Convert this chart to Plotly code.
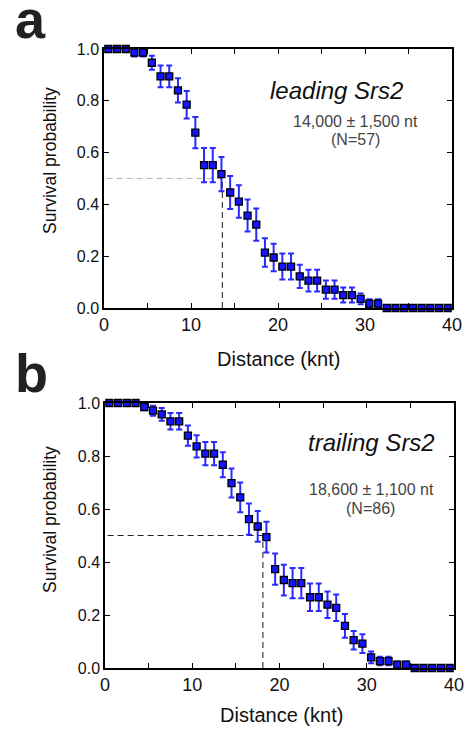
import plotly.graph_objects as go

W, H = 469, 730

# ---------------- data ----------------
distance_knt = [i + 0.5 for i in range(40)]

surv_leading = [1.0, 1.0, 1.0, 0.986, 0.986, 0.947, 0.894, 0.894, 0.840, 0.785,
                0.677, 0.552, 0.552, 0.517, 0.446, 0.411, 0.357, 0.322, 0.214, 0.195,
                0.160, 0.160, 0.122, 0.106, 0.106, 0.071, 0.071, 0.050, 0.050, 0.035,
                0.017, 0.017, 0, 0, 0, 0, 0, 0, 0, 0]
err_leading = [0, 0, 0, 0.015, 0.015, 0.027, 0.042, 0.042, 0.047, 0.053,
               0.060, 0.066, 0.066, 0.066, 0.064, 0.063, 0.062, 0.062, 0.055, 0.053,
               0.050, 0.050, 0.045, 0.042, 0.042, 0.035, 0.035, 0.029, 0.029, 0.021,
               0.017, 0.017, 0, 0, 0, 0, 0, 0, 0, 0]

surv_trailing = [1.0, 1.0, 1.0, 1.0, 0.985, 0.971, 0.957, 0.931, 0.931, 0.877,
                 0.836, 0.809, 0.809, 0.767, 0.698, 0.644, 0.562, 0.534, 0.494, 0.373,
                 0.332, 0.320, 0.320, 0.267, 0.267, 0.239, 0.227, 0.159, 0.105, 0.092,
                 0.040, 0.026, 0.026, 0.013, 0.013, 0, 0, 0, 0, 0]
err_trailing = [0, 0, 0, 0, 0.012, 0.019, 0.024, 0.031, 0.031, 0.038,
                0.042, 0.044, 0.044, 0.047, 0.055, 0.056, 0.059, 0.058, 0.058, 0.059,
                0.058, 0.057, 0.057, 0.052, 0.052, 0.050, 0.050, 0.045, 0.035, 0.035,
                0.022, 0.016, 0.016, 0.012, 0.012, 0, 0, 0, 0, 0]

median_leading_knt = 13.6
median_trailing_knt = 18.1
half_survival = 0.5

x_tickvals = [0, 5, 10, 15, 20, 25, 30, 35, 40]
x_ticktext = ["0", "", "10", "", "20", "", "30", "", "40"]
y_tickvals = [0.0, 0.2, 0.4, 0.6, 0.8, 1.0]
y_ticktext = ["0.0", "0.2", "0.4", "0.6", "0.8", "1.0"]

FONT = "Liberation Sans, Arial, Helvetica, sans-serif"

def px_x(p):
    return p / W

def px_y(p):
    return 1 - p / H

fig = go.Figure()

panels = [
    # axis suffix, survival, errors, median, hline colour, frame px (l, t, r, b)
    ("", surv_leading, err_leading, median_leading_knt, "#b8b8b8", (104, 49, 452, 308)),
    ("2", surv_trailing, err_trailing, median_trailing_knt, "#222222", (105, 403, 454, 668)),
]

for suf, surv, err, med, hcol, (l, t, r, b) in panels:
    xa = "x" + suf
    ya = "y" + suf
    # dashed guide lines
    fig.add_trace(go.Scatter(x=[0.3, med], y=[half_survival, half_survival], mode="lines",
                             line=dict(color=hcol, width=1, dash="6px,4px"),
                             xaxis=xa, yaxis=ya, showlegend=False, hoverinfo="skip"))
    fig.add_trace(go.Scatter(x=[med, med], y=[0, half_survival], mode="lines",
                             line=dict(color="#1a1a1a", width=1, dash="6px,4px"),
                             xaxis=xa, yaxis=ya, showlegend=False, hoverinfo="skip"))
    fig.add_trace(go.Scatter(
        x=distance_knt, y=surv, mode="markers",
        marker=dict(symbol="square", size=7, color="#1414ff",
                    line=dict(color="#000000", width=1.3)),
        error_y=dict(type="data", array=err, visible=True, color="#2a2aff",
                     thickness=2, width=3),
        cliponaxis=False, xaxis=xa, yaxis=ya, showlegend=False))

axis_common = dict(showline=True, linecolor="black", linewidth=1.5, mirror="ticks",
                   ticks="inside", ticklen=5, tickwidth=1, tickcolor="black",
                   showgrid=False, zeroline=False, fixedrange=True, automargin=False)

layout = dict(
    width=W, height=H,
    margin=dict(l=0, r=0, t=0, b=0, pad=0, autoexpand=False),
    paper_bgcolor="white", plot_bgcolor="white",
    font=dict(family=FONT, color="#111111"),
)
for suf, surv, err, med, hcol, (l, t, r, b) in panels:
    xk = "xaxis" + suf
    yk = "yaxis" + suf
    layout[xk] = dict(axis_common, domain=[px_x(l), px_x(r)], range=[0, 40],
                      tickvals=x_tickvals, ticktext=x_ticktext,
                      tickfont=dict(size=18, family=FONT, color="#111"),
                      anchor="y" + suf)
    layout[yk] = dict(axis_common, domain=[px_y(b), px_y(t)], range=[0, 1],
                      tickvals=y_tickvals, ticktext=y_ticktext,
                      tickfont=dict(size=16, family=FONT, color="#111"),
                      anchor="x" + suf)

fig.update_layout(**layout)

def ann(text, x, y, size, color="#111111", bold=False, italic=False, angle=0):
    t = text
    if bold:
        t = "<b>" + t + "</b>"
    if italic:
        t = "<i>" + t + "</i>"
    fig.add_annotation(text=t, x=px_x(x), y=px_y(y), xref="paper", yref="paper",
                       xanchor="center", yanchor="middle", showarrow=False,
                       textangle=angle, font=dict(size=size, color=color, family=FONT))

# panel letters
ann("a", 30, 19, 54, bold=True, color="#222")
ann("b", 31, 373, 54, bold=True, color="#222")

# axis titles
ann("Survival probability", 50, 161, 17.5, angle=-90)
ann("Survival probability", 50, 520, 17.5, angle=-90)
ann("Distance (knt)", 278, 359, 20)
ann("Distance (knt)", 281, 715, 20)

# in-plot labels
ann("leading Srs2", 336, 90, 24, italic=True)
ann("14,000 ± 1,500 nt", 355, 121, 16, color="#444444")
ann("(N=57)", 355, 139.5, 16, color="#444444")
ann("trailing Srs2", 371, 442.5, 24, italic=True)
ann("18,600 ± 1,100 nt", 371, 489.5, 16, color="#444444")
ann("(N=86)", 370, 508.5, 16, color="#444444")

fig.write_html("out.html", config={"displayModeBar": False},
               post_script="document.body.style.margin='0';document.body.style.overflow='hidden';")
